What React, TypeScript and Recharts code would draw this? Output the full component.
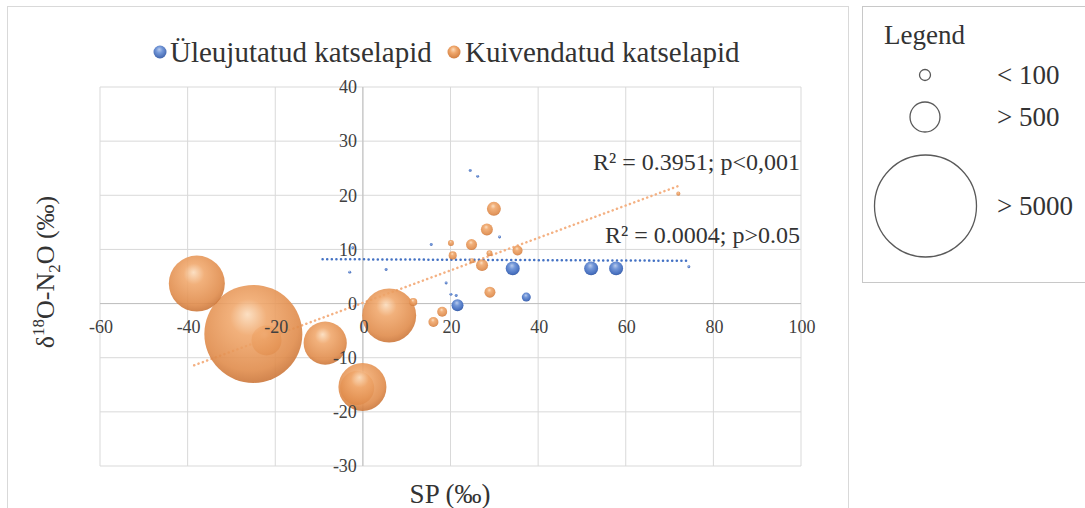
import {
  ScatterChart,
  Scatter,
  XAxis,
  YAxis,
  ZAxis,
  CartesianGrid,
  ReferenceLine,
  ReferenceDot,
} from 'recharts';

// SP (‰) vs δ18O-N2O (‰); z = N2O flux, drawn as bubble area
const driedX = [-22.0, -1.3, -25.0, -37.9, 6.0, -0.1, -8.6, 29.9, 28.3, 27.2, 24.8, 29.0, 18.1, 16.1, 35.3, 20.5, 11.5, 20.1, 28.9, 24.9, 72.0];
const driedY = [-6.8, -15.6, -5.6, 3.7, -2.2, -15.4, -7.3, 17.5, 13.7, 7.1, 10.9, 2.1, -1.5, -3.4, 9.8, 8.9, 0.3, 11.2, 9.3, 7.9, 20.3];
const driedZ = [433, 556, 4617, 1508, 1402, 1108, 897, 94, 69, 69, 58, 58, 48, 48, 48, 31, 31, 17, 17, 12, 8];

const floodedX = [34.2, 52.1, 57.8, 21.6, 37.3, 24.5, 26.2, 31.2, 19.0, 20.1, 21.3, 74.4, 15.6, -3.0, 5.3, -2.3];
const floodedY = [6.5, 6.5, 6.5, -0.3, 1.2, 24.6, 23.5, 12.3, 3.8, 1.7, 1.5, 6.8, 10.9, 5.8, 6.3, 10.3];
const floodedZ = [94, 94, 94, 69, 39, 4, 4, 4, 4, 4, 4, 4, 4, 4, 4, 4];

// linear trend endpoints
const driedTrend = [{ x: -38.5, y: -11.4 }, { x: 72.3, y: 21.8 }];
const floodedTrend = [{ x: -9.2, y: 8.2 }, { x: 74.5, y: 7.9 }];

const xTicks = [-60, -40, -20, 0, 20, 40, 60, 80, 100];
const yTicks = [-30, -20, -10, 0, 10, 20, 30, 40];

const driedLabel = 'R² = 0.3951; p<0,001';
const floodedLabel = 'R² = 0.0004; p>0.05';

const sizeLegend = ['< 100', '> 500', '> 5000'];

const dried = driedX.map((x, i) => ({ x, y: driedY[i], z: driedZ[i] }));
const flooded = floodedX.map((x, i) => ({ x, y: floodedY[i], z: floodedZ[i] }));

const FONT = '"Liberation Serif", "Times New Roman", serif';
const TEXT = '#333333';

function Bubble(props: any) {
  const { cx, cy, width, fill, opacity } = props;
  if (cx == null || cy == null) return null;
  const r = Math.max(width / 2, 1.2);
  return <circle cx={cx} cy={cy} r={r} fill={fill} fillOpacity={opacity} />;
}

function XTickLabel(props: any) {
  return (
    <text x={props.cx + 1} y={props.cy + 29} textAnchor="middle" fontFamily={FONT} fontSize={18} fill="#404040">
      {props.label}
    </text>
  );
}

function YTickLabel(props: any) {
  return (
    <text x={props.cx - 6} y={props.cy} dy="0.35em" textAnchor="end" fontFamily={FONT} fontSize={18} fill="#404040">
      {props.label}
    </text>
  );
}

export default function App() {
  return (
    <div style={{ position: 'absolute', left: 0, top: 0, width: 1085, height: 508, background: '#fff', overflow: 'hidden' }}>
      <svg width={1085} height={508} style={{ position: 'absolute', left: 0, top: 0 }}>
        <rect x={7.5} y={6.5} width={841} height={520} fill="#fff" stroke="#d9d9d9" />
        <rect x={862.5} y={6.5} width={240} height={276} fill="#fff" stroke="#c8c8c8" />
      </svg>

      <ScatterChart
        width={850}
        height={508}
        margin={{ top: 87, right: 49, bottom: 42, left: 100 }}
        style={{ position: 'absolute', left: 0, top: 0 }}
      >
        <defs>
          <radialGradient id="gOrange" cx="0.47" cy="0.4" r="0.62" fx="0.44" fy="0.3">
            <stop offset="0" stopColor="#fbdcbc" />
            <stop offset="0.3" stopColor="#f0a86d" />
            <stop offset="0.8" stopColor="#e08c4c" />
            <stop offset="1" stopColor="#c97438" />
          </radialGradient>
          <radialGradient id="gBlue" cx="0.47" cy="0.4" r="0.62" fx="0.44" fy="0.3">
            <stop offset="0" stopColor="#b9cbec" />
            <stop offset="0.35" stopColor="#7397d8" />
            <stop offset="0.8" stopColor="#4a72c0" />
            <stop offset="1" stopColor="#385ca3" />
          </radialGradient>
        </defs>
        <CartesianGrid stroke="#d9d9d9" />
        <XAxis type="number" dataKey="x" domain={[-60, 100]} ticks={xTicks} hide />
        <YAxis type="number" dataKey="y" domain={[-30, 40]} ticks={yTicks} hide />
        <ZAxis type="number" dataKey="z" domain={[0, 5000]} range={[0, 8171]} />
        <ReferenceLine x={0} stroke="#bfbfbf" />
        <ReferenceLine y={0} stroke="#bfbfbf" />
        <ReferenceLine
          segment={driedTrend}
          stroke="#f4b183"
          strokeWidth={2.5}
          strokeDasharray="0.1 4.5"
          strokeLinecap="round"
        />
        <ReferenceLine
          segment={floodedTrend}
          stroke="#4472c4"
          strokeWidth={2.5}
          strokeDasharray="0.1 4.5"
          strokeLinecap="round"
        />
        <Scatter
          data={dried}
          fill="url(#gOrange)"
          isAnimationActive={false}
          shape={(p: any) => <Bubble {...p} opacity={0.9} />}
        />
        <Scatter
          data={flooded}
          fill="url(#gBlue)"
          isAnimationActive={false}
          shape={(p: any) => <Bubble {...p} opacity={1} />}
        />
        {xTicks.map((t) => (
          <ReferenceDot key={`x${t}`} x={t} y={0} r={0} shape={(p: any) => <XTickLabel {...p} label={t} />} />
        ))}
        {yTicks.map((t) => (
          <ReferenceDot key={`y${t}`} x={0} y={t} r={0} shape={(p: any) => <YTickLabel {...p} label={t} />} />
        ))}
      </ScatterChart>

      <svg width={1085} height={508} style={{ position: 'absolute', left: 0, top: 0, pointerEvents: 'none' }}>
        <defs>
          <radialGradient id="lOrange" cx="0.47" cy="0.4" r="0.62" fx="0.44" fy="0.3">
            <stop offset="0" stopColor="#fbdcbc" />
            <stop offset="0.4" stopColor="#f0a86d" />
            <stop offset="1" stopColor="#d07c3e" />
          </radialGradient>
          <radialGradient id="lBlue" cx="0.47" cy="0.4" r="0.62" fx="0.44" fy="0.3">
            <stop offset="0" stopColor="#b9cbec" />
            <stop offset="0.4" stopColor="#7397d8" />
            <stop offset="1" stopColor="#3e62aa" />
          </radialGradient>
        </defs>
        <g fontFamily={FONT} fill={TEXT}>
          {/* series legend */}
          <circle cx={160} cy={52} r={6.5} fill="url(#lBlue)" />
          <text x={170} y={62} fontSize={29}>Üleujutatud katselapid</text>
          <circle cx={454} cy={52} r={6.5} fill="url(#lOrange)" />
          <text x={465} y={62} fontSize={29}>Kuivendatud katselapid</text>

          {/* trend annotations */}
          <text x={800} y={170} fontSize={24} textAnchor="end">{driedLabel}</text>
          <text x={800} y={243} fontSize={24} textAnchor="end">{floodedLabel}</text>

          {/* axis titles */}
          <text x={450} y={503} fontSize={27} textAnchor="middle">SP (‰)</text>
          <text transform="translate(54,272) rotate(-90)" fontSize={26} textAnchor="middle">
            δ<tspan fontSize={17} dy={-10}>18</tspan>
            <tspan dy={10}>O-N</tspan>
            <tspan fontSize={17} dy={6}>2</tspan>
            <tspan dy={-6}>O (‰)</tspan>
          </text>

          {/* bubble size legend */}
          <text x={884} y={44} fontSize={27}>Legend</text>
          <circle cx={925} cy={75} r={5.5} fill="none" stroke="#595959" strokeWidth={1.3} />
          <circle cx={925} cy={117} r={15} fill="none" stroke="#595959" strokeWidth={1.3} />
          <circle cx={925.5} cy={206} r={51} fill="none" stroke="#595959" strokeWidth={1.3} />
          <text x={997} y={84} fontSize={27}>{sizeLegend[0]}</text>
          <text x={997} y={126} fontSize={27}>{sizeLegend[1]}</text>
          <text x={997} y={215} fontSize={27}>{sizeLegend[2]}</text>
        </g>
      </svg>
    </div>
  );
}
